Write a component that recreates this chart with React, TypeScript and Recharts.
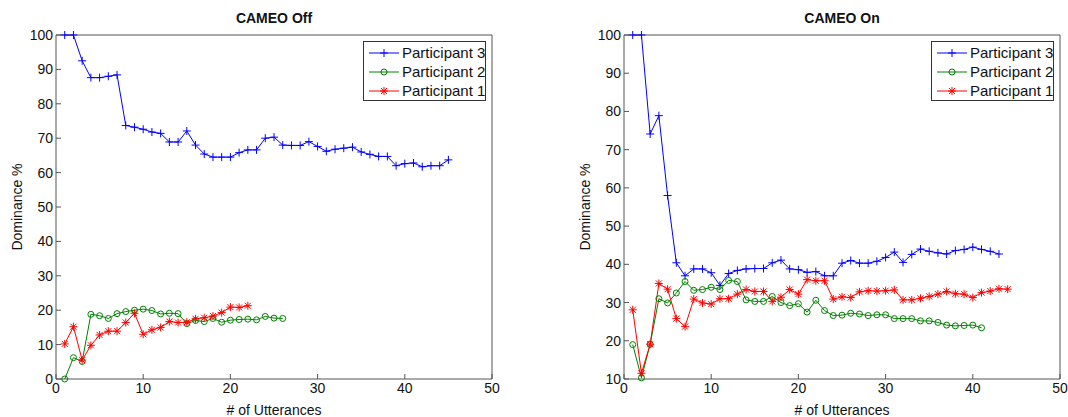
import { Line, LineChart, XAxis, YAxis } from "recharts"

const FONT = '"Liberation Sans", Arial, Helvetica, sans-serif'

// x ticks and y ticks
const xTicks = [0, 10, 20, 30, 40, 50]
const offTicks = [0, 10, 20, 30, 40, 50, 60, 70, 80, 90, 100]
const onTicks = [10, 20, 30, 40, 50, 60, 70, 80, 90, 100]

// CAMEO Off
const p3Off = [100, 100, 92.5, 87.6, 87.6, 88.0, 88.4, 73.7, 73.2, 72.6, 71.8, 71.4, 68.9, 68.9, 72.1, 68.0, 65.4, 64.5, 64.5, 64.5, 65.8, 66.6, 66.6, 70.0, 70.3, 68.0, 67.9, 67.9, 69.0, 67.6, 66.2, 66.8, 67.1, 67.4, 66.0, 65.3, 64.7, 64.7, 62.0, 62.6, 62.8, 61.7, 62.0, 62.0, 63.7]
const p2Off = [0, 6.2, 5.1, 18.8, 18.4, 17.6, 19.0, 19.6, 20.0, 20.3, 19.9, 18.9, 19.1, 19.0, 16.1, 17.0, 16.7, 17.6, 16.5, 17.1, 17.3, 17.4, 17.2, 18.2, 17.7, 17.6]
const p1Off = [10.2, 15.2, 5.5, 9.8, 12.8, 13.9, 13.9, 16.4, 19.1, 13.0, 14.3, 15.0, 16.7, 16.4, 16.5, 17.5, 17.8, 18.3, 19.3, 20.9, 20.8, 21.3]

// CAMEO On
const p3On = [100, 100, 74.1, 78.9, 58.0, 40.4, 37.0, 38.8, 38.8, 37.8, 34.5, 37.6, 38.4, 38.8, 38.9, 38.9, 40.4, 41.1, 38.8, 38.6, 37.9, 38.1, 37.0, 37.0, 40.3, 41.0, 40.3, 40.3, 40.8, 41.8, 43.2, 40.5, 42.6, 44.0, 43.4, 43.0, 42.7, 43.6, 43.9, 44.5, 43.9, 43.4, 42.7]
const p2On = [19.0, 10.3, 19.1, 31.0, 29.9, 32.5, 35.5, 33.2, 33.4, 34.0, 33.4, 35.8, 35.5, 30.7, 30.3, 30.3, 31.6, 30.0, 29.2, 29.7, 27.5, 30.6, 27.9, 26.6, 26.7, 27.2, 27.0, 26.6, 26.8, 26.8, 25.8, 25.8, 25.8, 25.2, 25.2, 24.8, 24.1, 23.9, 24.0, 24.1, 23.4]
const p1On = [28.1, 11.5, 19.1, 35.0, 33.5, 25.8, 23.7, 30.9, 29.9, 29.6, 31.0, 31.0, 32.2, 33.4, 32.9, 32.9, 30.3, 31.4, 33.4, 32.2, 36.0, 35.7, 35.7, 30.9, 31.5, 31.3, 32.8, 33.1, 33.0, 33.1, 33.3, 30.7, 30.7, 31.1, 31.6, 32.2, 32.9, 32.3, 32.2, 31.3, 32.6, 33.0, 33.6, 33.5]

const series = [
  { key: "p3", name: "Participant 3", color: "#0000ff", marker: "plus" },
  { key: "p2", name: "Participant 2", color: "#008000", marker: "circle" },
  { key: "p1", name: "Participant 1", color: "#ff0000", marker: "star" },
]

function buildRows(p3: number[], p2: number[], p1: number[]) {
  const n = Math.max(p3.length, p2.length, p1.length)
  return Array.from({ length: n }, (_, i) => ({
    x: i + 1,
    p3: p3[i],
    p2: p2[i],
    p1: p1[i],
  }))
}

function markerShape(marker: string, cx: number, cy: number, color: string, k?: any) {
  if (marker === "plus") {
    return <path key={k} d={`M${cx - 4},${cy}H${cx + 4}M${cx},${cy - 4}V${cy + 4}`} stroke={color} strokeWidth={1} fill="none" />
  }
  if (marker === "circle") {
    return <circle key={k} cx={cx} cy={cy} r={3} stroke={color} strokeWidth={1} fill="none" />
  }
  return (
    <path
      key={k}
      d={`M${cx - 4},${cy}H${cx + 4}M${cx},${cy - 4}V${cy + 4}M${cx - 3},${cy - 3}L${cx + 3},${cy + 3}M${cx - 3},${cy + 3}L${cx + 3},${cy - 3}`}
      stroke={color}
      strokeWidth={1}
      fill="none"
    />
  )
}

const makeDot = (marker: string, color: string) => (props: any) => {
  const { cx, cy, index, value } = props
  if (cx == null || cy == null || value == null) return <g key={`e${index}`} />
  return markerShape(marker, cx, cy, color, `d${index}`)
}

function LegendBox() {
  return (
    <div
      style={{
        position: "absolute",
        left: 363,
        top: 41,
        width: 123,
        height: 60,
        border: "1px solid #333",
        background: "#fff",
        fontFamily: FONT,
        fontSize: 15,
        color: "#111",
        paddingTop: 1,
        boxSizing: "border-box",
        whiteSpace: "nowrap",
      }}
    >
      {series.map((s) => (
        <div key={s.key} style={{ display: "flex", alignItems: "center", height: 19 }}>
          <svg width={32} height={12} style={{ marginLeft: 4, flexShrink: 0 }}>
            <line x1={1} y1={6} x2={31} y2={6} stroke={s.color} strokeWidth={1} />
            {markerShape(s.marker, 16, 6, s.color)}
          </svg>
          <span style={{ lineHeight: "19px", marginLeft: 2 }}>{s.name}</span>
        </div>
      ))}
    </div>
  )
}

function Panel({ title, rows, yDomain, yTicks, left }: any) {
  return (
    <div style={{ position: "absolute", left, top: 0, width: 534, height: 417 }}>
      <div
        style={{
          position: "absolute",
          left: 56,
          width: 436,
          top: 9,
          textAlign: "center",
          fontFamily: FONT,
          fontWeight: "bold",
          fontSize: 14,
          lineHeight: "18px",
          color: "#111",
        }}
      >
        {title}
      </div>
      <LineChart
        width={534}
        height={417}
        data={rows}
        margin={{ top: 34, right: 41, bottom: 8, left: 16 }}
        style={{ fontFamily: FONT }}
      >
        <XAxis
          xAxisId="b"
          dataKey="x"
          type="number"
          domain={[0, 50]}
          ticks={xTicks}
          interval={0}
          tickSize={-5}
          tickMargin={9}
          height={30}
          stroke="#555"
          tick={{ fill: "#111", fontSize: 14 }}
          label={{ value: "# of Utterances", position: "bottom", offset: -4, fill: "#111", fontSize: 14 }}
        />
        <XAxis xAxisId="t" orientation="top" dataKey="x" type="number" domain={[0, 50]} ticks={xTicks} interval={0} tickSize={-5} tick={false} height={1} stroke="#555" />
        <YAxis
          yAxisId="l"
          type="number"
          domain={yDomain}
          ticks={yTicks}
          interval={0}
          tickSize={-5}
          tickMargin={8}
          width={40}
          stroke="#555"
          tick={{ fill: "#111", fontSize: 14 }}
          label={{ value: "Dominance %", angle: -90, position: "insideLeft", offset: 1, fill: "#111", fontSize: 14, style: { textAnchor: "middle" } }}
        />
        <YAxis yAxisId="r" orientation="right" type="number" domain={yDomain} ticks={yTicks} interval={0} tickSize={-5} tick={false} width={1} stroke="#555" />
        {series.map((s) => (
          <Line
            key={s.key}
            xAxisId="b"
            yAxisId="l"
            dataKey={s.key}
            name={s.name}
            stroke={s.color}
            strokeWidth={1}
            dot={makeDot(s.marker, s.color)}
            activeDot={false}
            isAnimationActive={false}
          />
        ))}
      </LineChart>
      <LegendBox />
    </div>
  )
}

export default function App() {
  const offRows = buildRows(p3Off, p2Off, p1Off)
  const onRows = buildRows(p3On, p2On, p1On)
  return (
    <div style={{ position: "absolute", left: 0, top: 0, width: 1068, height: 417, background: "#fff" }}>
      <Panel title="CAMEO Off" rows={offRows} yDomain={[0, 100]} yTicks={offTicks} left={0} />
      <Panel title="CAMEO On" rows={onRows} yDomain={[10, 100]} yTicks={onTicks} left={568} />
    </div>
  )
}
